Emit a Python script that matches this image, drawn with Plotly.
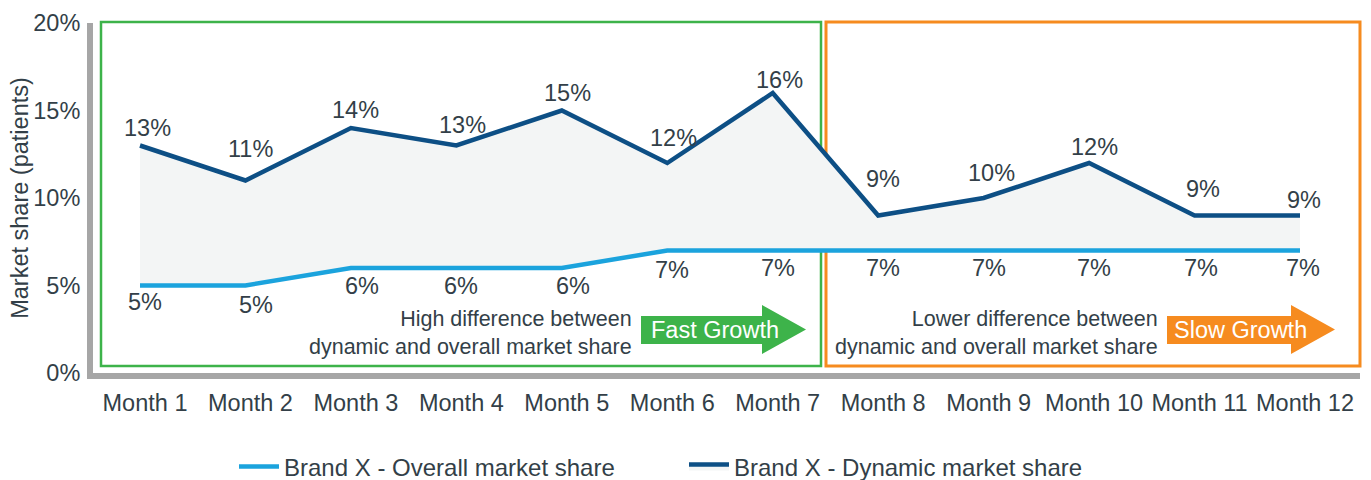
import plotly.graph_objects as go

months = ["Month 1", "Month 2", "Month 3", "Month 4", "Month 5", "Month 6",
          "Month 7", "Month 8", "Month 9", "Month 10", "Month 11", "Month 12"]
overall_share = [5, 5, 6, 6, 6, 7, 7, 7, 7, 7, 7, 7]
dynamic_share = [13, 11, 14, 13, 15, 12, 16, 9, 10, 12, 9, 9]
series_names = ["Brand X - Overall market share", "Brand X - Dynamic market share"]
y_ticks = [0, 5, 10, 15, 20]

# label placement (style only): pixel offsets of each value label from its point
dyn_label_dy = [18, 32, 18, 21, 18, 25, 13, 37, 25, 16, 27, 16]
dyn_label_dx = [7, 5, 5, 6, 6, 6, 7, 5, 8, 5, 8, 4]
ovr_label_dy = [16, 19, 18, 18, 18, 19, 17, 17, 17, 17, 17, 17]
ovr_label_dx = [5, 11, 11, 5, 11, 5, 5, 5, 5, 5, 6, 3]

W, H = 1371, 480
L, R, T, B = 93, 11, 23, 107
PW, PH = W - L - R, H - T - B

def px(x):
    return (x - L) / PW

def py(y):
    return (H - B - y) / PH

TEXT = "#333f48"
FONT = "Liberation Sans, Arial, sans-serif"
C_OVER = "#1ba3dd"
C_DYN = "#0d4f85"
GREEN = "#3db34a"
ORANGE = "#f68b1f"
FS = 23.5

fig = go.Figure()
fig.add_trace(go.Scatter(
    x=months, y=overall_share, name=series_names[0], mode="lines",
    line=dict(color=C_OVER, width=4.5), hoverinfo="skip"))
fig.add_trace(go.Scatter(
    x=months, y=dynamic_share, name=series_names[1], mode="lines",
    line=dict(color=C_DYN, width=4.5), fill="tonexty", fillcolor="#f3f5f5",
    hoverinfo="skip"))

shapes = [
    dict(type="rect", xref="paper", yref="paper", x0=px(101), x1=px(821), y0=py(366), y1=py(22),
         line=dict(color=GREEN, width=2.5), layer="below"),
    dict(type="rect", xref="paper", yref="paper", x0=px(826), x1=px(1360), y0=py(366), y1=py(22),
         line=dict(color=ORANGE, width=3), layer="below"),
]

def arrow(x0, xh, xt, yb0, yb1, yh0, yh1, color):
    pts = [(x0, yb0), (xh, yb0), (xh, yh0), (xt, (yh0 + yh1) / 2), (xh, yh1), (xh, yb1), (x0, yb1)]
    path = "M " + " L ".join(f"{px(a):.5f},{py(b):.5f}" for a, b in pts) + " Z"
    return dict(type="path", xref="paper", yref="paper", path=path,
                fillcolor=color, line=dict(color=color, width=0))

shapes.append(arrow(641, 762, 806, 316, 344, 305, 354, GREEN))
shapes.append(arrow(1167, 1291, 1335, 316, 344, 305, 354, ORANGE))

annotations = [
    dict(xref="paper", yref="paper", x=px(634), y=py(333), xanchor="right", yanchor="middle",
         text="High difference between<br>dynamic and overall market share", showarrow=False,
         align="right", font=dict(size=21.5, color=TEXT, family=FONT)),
    dict(xref="paper", yref="paper", x=px(1160), y=py(333), xanchor="right", yanchor="middle",
         text="Lower difference between<br>dynamic and overall market share", showarrow=False,
         align="right", font=dict(size=21.5, color=TEXT, family=FONT)),
    dict(xref="paper", yref="paper", x=px(715), y=py(330), xanchor="center", yanchor="middle",
         text="Fast Growth", showarrow=False, font=dict(size=FS, color="white", family=FONT)),
    dict(xref="paper", yref="paper", x=px(1240), y=py(330), xanchor="center", yanchor="middle",
         text="Slow Growth", showarrow=False, font=dict(size=FS, color="white", family=FONT)),
]

for i, m in enumerate(months):
    annotations.append(dict(x=m, y=dynamic_share[i], xref="x", yref="y", text=f"{dynamic_share[i]}%",
                            showarrow=False, xanchor="center", yanchor="middle",
                            xshift=dyn_label_dx[i], yshift=dyn_label_dy[i],
                            font=dict(size=FS, color=TEXT, family=FONT)))
    annotations.append(dict(x=m, y=overall_share[i], xref="x", yref="y", text=f"{overall_share[i]}%",
                            showarrow=False, xanchor="center", yanchor="middle",
                            xshift=ovr_label_dx[i], yshift=-ovr_label_dy[i],
                            font=dict(size=FS, color=TEXT, family=FONT)))

# category centers: first at px 140, last at px 1300
step = (1300 - 140) / 11
x_range = [-(140 - L) / step, 11 + (L + PW - 1300) / step]

fig.update_layout(
    width=W, height=H, margin=dict(l=L, r=R, t=T, b=B, autoexpand=False),
    paper_bgcolor="white", plot_bgcolor="white",
    font=dict(family=FONT, color=TEXT, size=FS),
    showlegend=True,
    legend=dict(orientation="h", x=px(234), xanchor="left", y=py(467), yanchor="middle",
                font=dict(size=24, color=TEXT, family=FONT), itemwidth=40,
                entrywidth=395, entrywidthmode="pixels",
                traceorder="normal", bgcolor="rgba(0,0,0,0)"),
    shapes=shapes, annotations=annotations,
    xaxis=dict(type="category", range=x_range, showgrid=False, zeroline=False,
               showline=True, linecolor="#a6a6a6", linewidth=6, ticks="",
               ticklabelstandoff=4, ticklabelshift=5,
               tickfont=dict(size=FS, color=TEXT, family=FONT)),
    yaxis=dict(range=[0, 20], tickvals=y_ticks, ticktext=[f"{v}%" for v in y_ticks],
               showgrid=False, zeroline=False, showline=True, linecolor="#a6a6a6",
               linewidth=6, ticks="", ticklabelstandoff=2,
               tickfont=dict(size=FS, color=TEXT, family=FONT),
               title=dict(text="Market share (patients)", font=dict(size=FS, color=TEXT, family=FONT),
                          standoff=0)),
)

fig.write_html("out.html")
